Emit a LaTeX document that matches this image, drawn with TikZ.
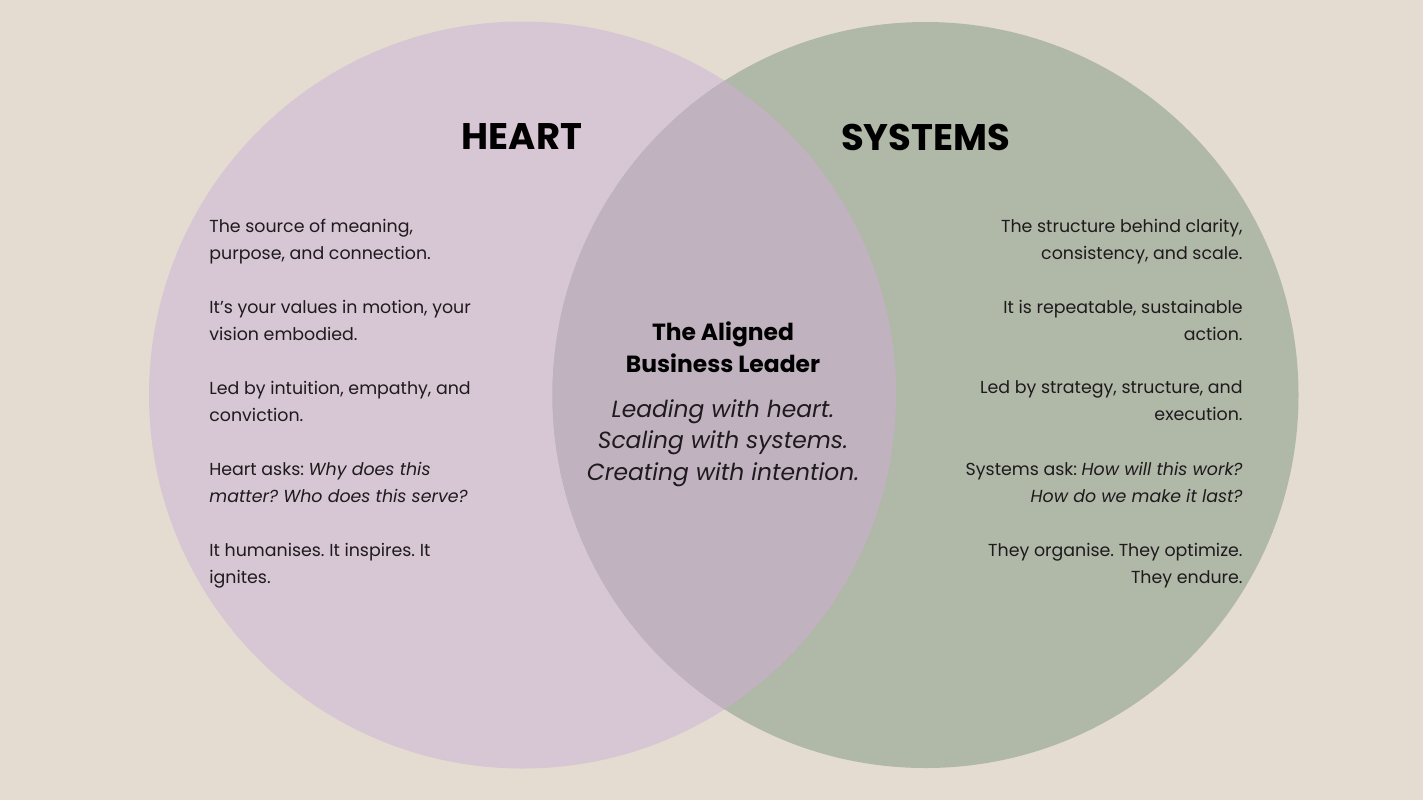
\documentclass[tikz,border=0pt]{standalone}
\usepackage{fontspec}
\setmainfont{Poppins}
\usetikzlibrary{positioning}
\definecolor{sand}{HTML}{E4DCD0}
\definecolor{heartfill}{HTML}{D7C6D3}
\definecolor{sysfill}{HTML}{B0B8A7}
\definecolor{blend}{HTML}{C0B3BF}
\definecolor{ink}{HTML}{1E1A1D}
\frenchspacing

\begin{document}
\begin{tikzpicture}[x=0.5pt,y=-0.5pt,
  every node/.style={inner sep=0pt,text=ink},
  title/.style={font=\fontsize{18.5}{20}\selectfont\bfseries,text=black},
  lefttext/.style={anchor=west,align=left,font=\fontsize{8.7}{13.5}\selectfont},
  righttext/.style={anchor=east,align=right,font=\fontsize{8.7}{13.5}\selectfont}]
% background and the two circles
\fill[sand] (0,0) rectangle (1423,800);
\useasboundingbox (0,0) rectangle (1423,800);
\fill[heartfill] (522.5,395) circle [radius=373.5];
\fill[sysfill] (925.5,395) circle [radius=373];
\begin{scope}
  \clip (925.5,395) circle [radius=373];
  \fill[blend] (522.5,395) circle [radius=373.5];
\end{scope}

% headings
\node[title] (heart) at (522,137) {HEART};
\node[title] (systems) at (925.5,137) {SYSTEMS};

% heart side
\node[lefttext] (h1) at (209,242) {The source of meaning,\\purpose, and connection.};
\node[lefttext] (h2) at (209,320) {It’s your values in motion, your\\vision embodied.};
\node[lefttext] (h3) at (209,401) {Led by intuition, empathy, and\\conviction.};
\node[lefttext] (h4) at (209,482) {Heart asks: \emph{Why does this}\\\emph{matter? Who does this serve?}};
\node[lefttext] (h5) at (209,566) {It humanises. It inspires. It\\ignites.};

% systems side
\node[righttext] (s1) at (1243,242) {The structure behind clarity,\\consistency, and scale.};
\node[righttext] (s2) at (1243,320) {It is repeatable, sustainable\\action.};
\node[righttext] (s3) at (1243,401) {Led by strategy, structure, and\\execution.};
\node[righttext] (s4) at (1243,482) {Systems ask: \emph{How will this work?}\\\emph{How do we make it last?}};
\node[righttext] (s5) at (1243,566) {They organise. They optimize.\\They endure.};

% overlap
\node[align=center,font=\fontsize{11.7}{16}\selectfont\bfseries,text=black]
  (leader) at (723,347) {The Aligned\\Business Leader};
\node[align=center,font=\fontsize{11.7}{15.75}\selectfont\itshape,
  below=13pt of leader] (motto)
  {Leading with heart.\\Scaling with systems.\\Creating with intention.};
\end{tikzpicture}
\end{document}
